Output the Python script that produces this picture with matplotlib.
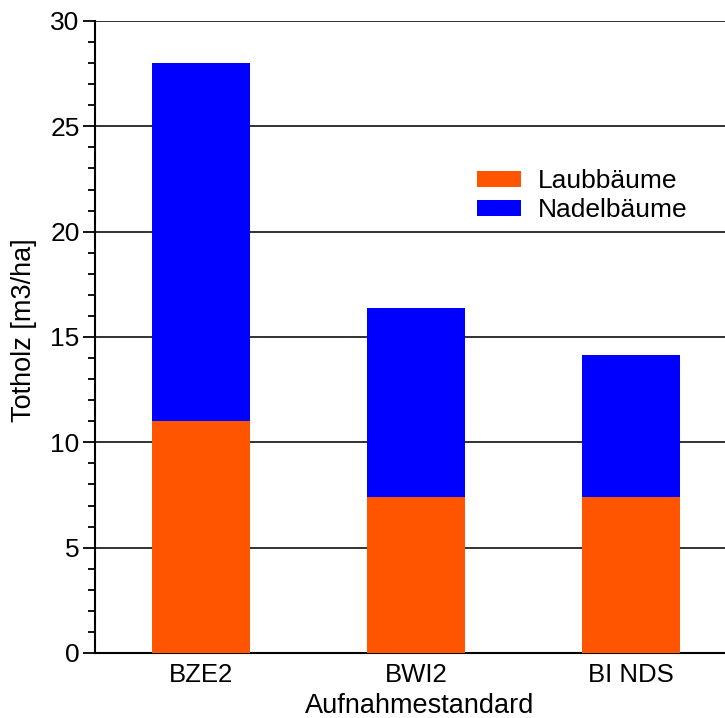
import matplotlib
matplotlib.use("Agg")
import matplotlib.pyplot as plt
from matplotlib.ticker import MultipleLocator

categories = ["BZE2", "BWI2", "BI NDS"]
laub = [11.0, 7.4, 7.4]
nadel_total = [28.0, 16.4, 14.15]
nadel = [t - l for t, l in zip(nadel_total, laub)]

plt.rcParams['font.family'] = ['Liberation Sans', 'DejaVu Sans']

fig = plt.figure(figsize=(7.25, 7.18), dpi=100)
ax = fig.add_axes([95/725, 1 - 653/718, 630/725, (653-21)/718])

x = list(range(len(categories)))
w = 0.455
ax.bar(x, laub, width=w, color='#FF5500', label='Laubbäume', zorder=3)
ax.bar(x, nadel, width=w, bottom=laub, color='#0000FF', label='Nadelbäume', zorder=3)

ax.set_xlim(-0.493, 2.437)
ax.set_ylim(0, 30)
ax.yaxis.set_major_locator(MultipleLocator(5))
ax.yaxis.set_minor_locator(MultipleLocator(1))
ax.grid(axis='y', which='major', color='#222222', linewidth=1.3, zorder=1)
ax.set_xticks(x)
ax.set_xticklabels(categories)
ax.tick_params(axis='x', length=0, labelsize=18.5, pad=7)
ax.tick_params(axis='y', which='major', length=9, width=1.3, labelsize=19, pad=2)
ax.tick_params(axis='y', which='minor', length=5, width=1.3)
for s in ['top', 'right']:
    ax.spines[s].set_visible(False)
for s in ['left', 'bottom']:
    ax.spines[s].set_linewidth(1.5)
ax.set_xlabel('Aufnahmestandard', fontsize=19.5)
ax.xaxis.set_label_coords(0.516, -40/632)
ax.set_ylabel('Totholz [m3/ha]', fontsize=19.5)
ax.yaxis.set_label_coords(-58/630, 0.5 + 7/632)

ax.legend(loc='upper left', bbox_to_anchor=(0.606, 0.766), frameon=False, fontsize=19,
          handlelength=1.67, handleheight=0.55, handletextpad=0.65, labelspacing=0.2,
          borderpad=0, borderaxespad=0)

fig.savefig('out.png', dpi=100)
